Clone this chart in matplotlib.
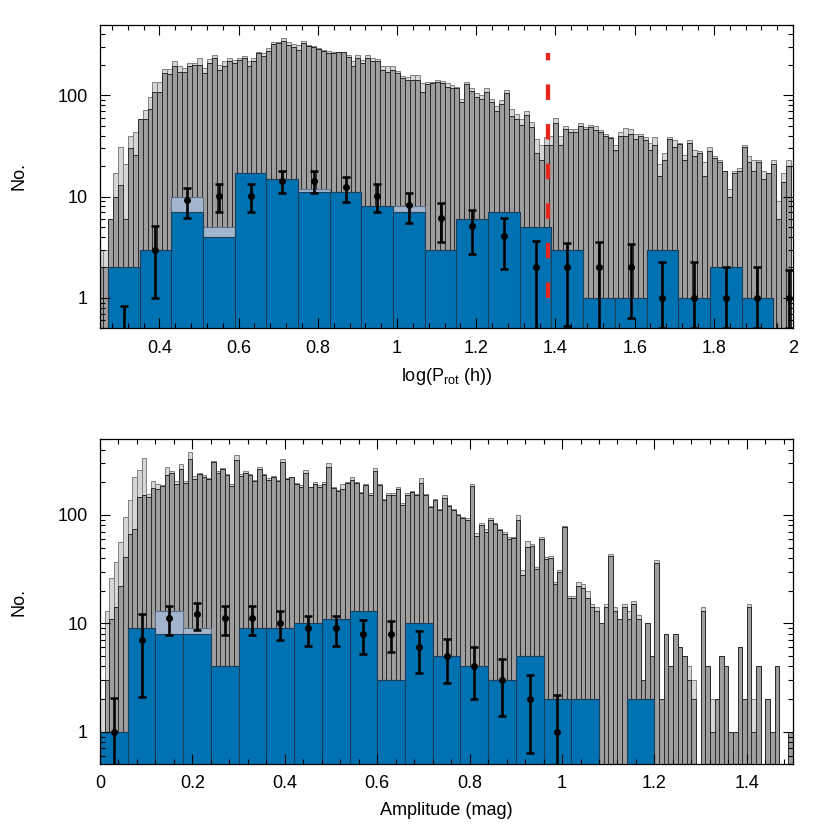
import numpy as np
import matplotlib
matplotlib.use("Agg")
from matplotlib import pyplot as plt
from matplotlib.ticker import MultipleLocator, LogLocator, NullFormatter, FuncFormatter

# ---- top panel: rotation period, log10(P / h) ----
prot_fine_start = 0.245
prot_fine_width = 0.0125
prot_fine_all = [
    3, 3, 6, 17, 31, 21, 40, 43, 59, 72,
    96, 135, 134, 183, 183, 216, 193, 186, 211, 211,
    234, 186, 230, 252, 200, 216, 234, 225, 234, 243,
    216, 234, 268, 262, 294, 337, 337, 369, 337, 322,
    316, 347, 316, 310, 294, 283, 272, 268, 268, 268,
    252, 216, 252, 225, 252, 234, 230, 196, 193, 193,
    175, 157, 153, 159, 159, 131, 134, 136, 141, 139,
    131, 126, 122, 93, 135, 117, 105, 101, 117, 93,
    79, 90, 113, 74, 66, 59, 70, 54, 37, 32,
    39, 40, 60, 40, 50, 47, 47, 53, 49, 51,
    50, 45, 42, 39, 32, 43, 48, 47, 42, 42,
    39, 34, 39, 21, 27, 39, 36, 34, 26, 36,
    29, 28, 22, 31, 25, 23, 18, 12, 18, 19,
    32, 25, 23, 23, 18, 17, 23, 9, 17, 23,
]
prot_fine_sel = [
    2, 2, 6, 10, 13, 6, 30, 26, 58, 59,
    73, 107, 108, 168, 162, 193, 172, 172, 193, 200,
    200, 165, 211, 234, 179, 193, 216, 211, 221, 234,
    193, 216, 262, 243, 272, 322, 327, 347, 316, 298,
    283, 327, 310, 298, 289, 272, 262, 262, 268, 268,
    237, 193, 234, 208, 234, 216, 216, 179, 172, 179,
    165, 147, 142, 142, 142, 108, 129, 131, 136, 131,
    122, 117, 117, 86, 129, 110, 97, 93, 107, 86,
    70, 83, 105, 63, 59, 51, 64, 49, 27, 23,
    32, 32, 53, 32, 47, 43, 43, 50, 47, 49,
    45, 43, 40, 38, 29, 40, 40, 42, 37, 40,
    36, 29, 32, 16, 23, 37, 31, 33, 23, 34,
    25, 27, 16, 28, 24, 22, 18, 10, 17, 18,
    31, 22, 18, 22, 15, 17, 21, 6, 14, 20,
]
prot_coarse_start = 0.27
prot_coarse_width = 0.08
prot_coarse_all = [2, 3, 10, 5, 17, 15, 12, 11, 8, 8, 3, 6, 7, 5, 3, 1, 1, 3, 1, 2, 1]
prot_coarse_sel = [2, 3, 7, 4, 17, 15, 11, 11, 8, 7, 3, 6, 7, 5, 3, 1, 1, 3, 1, 2, 1]
prot_pts = [0.3, 3, 9.2, 10.2, 10.2, 14.4, 14.4, 12.4, 10.2, 8.2, 6.1,
            5.1, 4.05, 2, 2, 2, 2, 1, 1, 1, 1, 1]
prot_lo = [0.1, 1.0, 6.2, 7.1, 7.1, 10.8, 10.8, 8.9, 7.0, 5.45, 3.6,
           2.7, 1.93, 0.3, 0.53, 0.3, 0.63, 0.5, 0.5, 0.5, 0.5, 0.5]
prot_hi = [0.83, 5.1, 12.2, 13.4, 13.4, 18.0, 18.0, 15.7, 13.4, 10.9, 8.7,
           7.4, 6.15, 3.66, 3.5, 3.6, 3.4, 2.26, 2.26, 2.0, 2.0, 1.9]
cut_hours = 24
cut_top = 260

# ---- bottom panel: amplitude (mag) ----
amp_fine_start = 0.0
amp_fine_width = 0.01
amp_fine_all = [
    2, 13, 26, 37, 56, 95, 138, 222, 261, 334,
    157, 206, 194, 191, 276, 254, 204, 298, 205, 385,
    230, 246, 234, 219, 318, 252, 270, 241, 193, 358,
    237, 257, 237, 211, 280, 241, 219, 230, 211, 327,
    219, 226, 197, 191, 261, 183, 200, 191, 201, 300,
    183, 171, 194, 201, 223, 201, 163, 195, 158, 274,
    195, 141, 158, 158, 181, 128, 158, 168, 156, 219,
    156, 121, 140, 114, 152, 124, 114, 103, 96, 93,
    192, 68, 84, 74, 93, 85, 75, 69, 62, 63,
    100, 31, 57, 54, 33, 62, 41, 42, 24, 31,
    79, 18, 18, 24, 23, 20, 15, 14, 10, 15,
    44, 14, 11, 15, 13, 16, 12, 3, 10, 5,
    38, 2, 8, 4, 8, 6, 5, 4, 3, 0,
    14, 4, 2, 2, 5, 4, 1, 1, 6, 2,
    15, 2, 4, 0, 2, 1, 4, 0, 0, 1,
]
amp_fine_sel = [
    1, 3, 11, 14, 22, 41, 67, 74, 148, 152,
    148, 177, 173, 186, 234, 246, 194, 268, 197, 327,
    214, 237, 226, 214, 311, 246, 264, 234, 186, 322,
    230, 246, 234, 206, 264, 234, 211, 222, 206, 311,
    214, 222, 193, 181, 246, 181, 194, 183, 194, 280,
    177, 165, 173, 197, 211, 197, 159, 191, 154, 252,
    191, 138, 154, 154, 173, 124, 154, 164, 152, 197,
    152, 118, 136, 111, 143, 121, 111, 100, 93, 90,
    187, 64, 81, 70, 90, 82, 73, 67, 60, 61,
    90, 28, 51, 52, 32, 60, 39, 40, 23, 30,
    77, 17, 17, 22, 21, 17, 14, 13, 10, 14,
    42, 13, 11, 14, 11, 15, 11, 3, 10, 5,
    36, 2, 8, 4, 8, 6, 5, 3, 2, 0,
    13, 4, 1, 2, 5, 4, 1, 1, 6, 2,
    14, 1, 4, 0, 2, 1, 4, 0, 0, 1,
]
amp_coarse_start = 0.0
amp_coarse_width = 0.06
amp_coarse_all = [1, 9, 13, 9, 4, 9, 9, 10, 11, 13, 3, 10, 5, 4, 3, 5, 2, 2, 0, 2]
amp_coarse_sel = [1, 9, 8, 8, 4, 9, 9, 10, 11, 13, 3, 10, 5, 4, 3, 5, 2, 2, 0, 2]
amp_pts = [1, 7.0, 11.1, 12.1, 11.1, 11.1, 10, 9, 9, 8.0, 8.0, 6.0, 5.0, 4.0, 3.0, 2.0, 1.0]
amp_lo = [0.3, 2.08, 7.8, 8.6, 7.8, 7.8, 7.0, 6.2, 6.2, 5.2, 5.4, 3.5, 2.8, 2.0, 1.38, 0.63, 0.3]
amp_hi = [2.03, 12.1, 14.3, 15.5, 14.3, 14.3, 13, 11.8, 11.8, 10.7, 10.6, 8.5, 7.2, 6.0, 4.66, 3.36, 2.18]

plt.rcParams["font.family"] = ["Liberation Sans", "DejaVu Sans"]
plt.rcParams["mathtext.fontset"] = "custom"
plt.rcParams["mathtext.rm"] = "Liberation Sans"
plt.rcParams["mathtext.it"] = "Liberation Sans:italic"
plt.rcParams["font.size"] = 13


def edges(start, width, n):
    return start + width * np.arange(n)


def draw_panel(ax, fine_start, fine_width, fine_all, fine_sel,
               coarse_start, coarse_width, coarse_all, coarse_sel,
               pts, lo, hi, xlim):
    xf = edges(fine_start, fine_width, len(fine_all))
    ax.bar(xf, fine_all, width=fine_width, align="edge",
           color="#d6d6d6", edgecolor="#808080", linewidth=0.7, zorder=1)
    ax.bar(xf, fine_sel, width=fine_width, align="edge",
           color="#9e9e9e", edgecolor="#2a2a2a", linewidth=0.7, zorder=1.1)

    xc = edges(coarse_start, coarse_width, len(coarse_all))
    ax.bar(xc, coarse_all, width=coarse_width, align="edge",
           color="#a2b5cd", edgecolor="#5d7088", linewidth=0.8, zorder=1.2)
    ax.bar(xc, coarse_sel, width=coarse_width, align="edge",
           color="#0072b2", edgecolor="#1f3d58", linewidth=0.8, zorder=1.3)

    pts = np.array(pts)
    xe = coarse_start + coarse_width * (np.arange(len(pts)) + 0.5)
    yerr = [pts - np.array(lo), np.array(hi) - pts]
    ax.errorbar(xe, pts, yerr=yerr, fmt="o", color="k", ms=4,
                elinewidth=1.9, capsize=3.2, capthick=1.8, zorder=4)

    ax.set_yscale("log")
    ax.set_ylim(0.5, 500)
    ax.set_xlim(*xlim)
    ax.xaxis.set_major_locator(MultipleLocator(0.2))
    ax.xaxis.set_minor_locator(MultipleLocator(0.04))
    ax.xaxis.set_major_formatter(FuncFormatter(lambda v, p: f"{v:g}"))
    ax.yaxis.set_major_locator(LogLocator(base=10, numticks=10))
    ax.yaxis.set_minor_locator(LogLocator(base=10, subs=np.arange(2, 10), numticks=10))
    ax.yaxis.set_major_formatter(FuncFormatter(lambda v, p: f"{v:g}"))
    ax.yaxis.set_minor_formatter(NullFormatter())
    ax.tick_params(which="both", direction="in", top=True, right=True, width=0.8)
    ax.tick_params(which="major", length=7, labelsize=13)
    ax.tick_params(which="minor", length=3.5)
    ax.tick_params(axis="x", which="major", pad=8)
    ax.tick_params(axis="y", which="major", pad=9)
    for s in ax.spines.values():
        s.set_linewidth(0.9)
    ax.set_ylabel("No.", fontsize=13)
    ax.yaxis.set_label_coords(-0.105, 0.5)


fig = plt.figure(figsize=(8.3, 8.3), dpi=100)
ax1 = fig.add_axes([0.1205, 0.6043, 0.835, 0.3661])
ax2 = fig.add_axes([0.1205, 0.0792, 0.835, 0.3916])

draw_panel(ax1, prot_fine_start, prot_fine_width, prot_fine_all, prot_fine_sel,
           prot_coarse_start, prot_coarse_width, prot_coarse_all, prot_coarse_sel,
           prot_pts, prot_lo, prot_hi, (0.25, 2.0))
ax1.vlines(np.log10(cut_hours), 1, cut_top, colors="#e5261f", linewidth=3.1,
           linestyles=(0, (3.6, 5.6)), zorder=3)
ax1.set_xlabel(r"log(P$_{\mathrm{rot}}$ (h))", fontsize=13, labelpad=7)

draw_panel(ax2, amp_fine_start, amp_fine_width, amp_fine_all, amp_fine_sel,
           amp_coarse_start, amp_coarse_width, amp_coarse_all, amp_coarse_sel,
           amp_pts, amp_lo, amp_hi, (0.0, 1.5))
ax2.set_xlabel("Amplitude (mag)", fontsize=13, labelpad=7)

fig.savefig("out.png", dpi=100)
